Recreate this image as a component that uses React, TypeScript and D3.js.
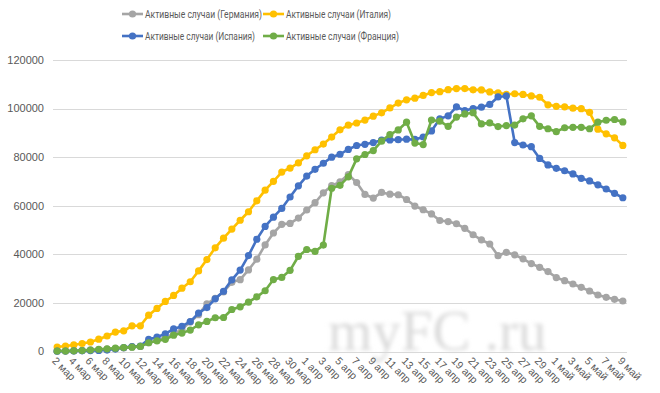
import { useEffect, useRef } from "react";
import * as d3 from "d3";

const dates = [
  "2 мар", "3 мар", "4 мар", "5 мар", "6 мар", "7 мар", "8 мар", "9 мар", "10 мар", "11 мар",
  "12 мар", "13 мар", "14 мар", "15 мар", "16 мар", "17 мар", "18 мар", "19 мар", "20 мар", "21 мар",
  "22 мар", "23 мар", "24 мар", "25 мар", "26 мар", "27 мар", "28 мар", "29 мар", "30 мар", "31 мар",
  "1 апр", "2 апр", "3 апр", "4 апр", "5 апр", "6 апр", "7 апр", "8 апр", "9 апр", "10 апр",
  "11 апр", "12 апр", "13 апр", "14 апр", "15 апр", "16 апр", "17 апр", "18 апр", "19 апр", "20 апр",
  "21 апр", "22 апр", "23 апр", "24 апр", "25 апр", "26 апр", "27 апр", "28 апр", "29 апр", "30 апр",
  "1 май", "2 май", "3 май", "4 май", "5 май", "6 май", "7 май", "8 май", "9 май",
];

const germany = [
  143, 180, 246, 466, 653, 781, 1022, 1156, 1437, 1880,
  2050, 3622, 4530, 5738, 7188, 9166, 12194, 15163, 19601, 21896,
  24513, 28480, 29586, 33570, 37998, 43871, 48781, 52351, 52740, 54933,
  58252, 61247, 65309, 68248, 69839, 72864, 69566, 64647, 63167, 65491,
  64772, 64532, 62578, 59865, 58349, 56646, 53931, 53483, 52598, 50703,
  48058, 45969, 44254, 39439, 40836, 39794, 38132, 36198, 34672, 32886,
  30441, 29155, 27790, 26420, 24900, 23260, 22300, 21490, 20790,
];

const italy = [
  1835, 2263, 2706, 3296, 3916, 5061, 6387, 7985, 8514, 10590,
  10590, 14955, 17750, 20603, 23073, 26062, 28710, 33190, 37860, 42681,
  46638, 50418, 54030, 57521, 62013, 66414, 70065, 73880, 75528, 77635,
  80572, 83049, 85388, 88274, 91246, 93187, 94067, 95262, 96877, 98273,
  100269, 102253, 103616, 104291, 105418, 106607, 106962, 107771, 108257, 108237,
  107709, 107699, 106848, 106527, 105847, 106103, 105813, 105205, 104657, 101551,
  100943, 100704, 100179, 99980, 98467, 91528, 89624, 87961, 84842,
];

const spain = [
  120, 165, 220, 260, 370, 430, 590, 1000, 1620, 2000,
  2260, 5000, 5900, 7300, 9300, 10400, 12300, 15800, 18100, 21700,
  24800, 29500, 33500, 39500, 46200, 51500, 55300, 58900, 63600, 68200,
  72200, 75000, 77500, 80000, 81200, 83200, 84800, 85300, 86000, 87000,
  87100, 87200, 87400, 87300, 88300, 90800, 95800, 97000, 100700, 99200,
  100000, 100600, 101700, 104800, 105200, 86000, 85000, 84300, 79500, 76800,
  75400, 74400, 73100, 71300, 70200, 68600, 66900, 65100, 63300,
];

const france = [
  180, 200, 270, 400, 590, 920, 1100, 1380, 1600, 1800,
  2100, 3600, 4400, 5000, 6700, 7600, 8800, 11000, 12400, 13900,
  14000, 17300, 18400, 20300, 22500, 25000, 29600, 30500, 33400, 39200,
  42000, 41200, 43800, 67200, 68400, 71900, 79300, 81100, 82700, 86600,
  89300, 91200, 94400, 85800, 85200, 95300, 94800, 92700, 96500, 97800,
  98300, 93700, 94100, 92600, 93000, 93200, 95800, 97000, 92700, 91700,
  90500, 92100, 92300, 92300, 91700, 94400, 95200, 95500, 94500,
];

const yTicks = [0, 20000, 40000, 60000, 80000, 100000, 120000];

const series = [
  { name: "Активные случаи (Германия)", values: germany, color: "#A5A5A5", tw: 117 },
  { name: "Активные случаи (Италия)", values: italy, color: "#FFC000", tw: 105 },
  { name: "Активные случаи (Испания)", values: spain, color: "#4472C4", tw: 110 },
  { name: "Активные случаи (Франция)", values: france, color: "#70AD47", tw: 113 },
];

const W = 660;
const H = 393;
const FONT = "Roboto, 'Liberation Sans', Arial, sans-serif";

const App = () => {
  const svgRef = useRef<SVGSVGElement | null>(null);

  useEffect(() => {
    const svg = d3.select(svgRef.current);
    svg.selectAll("*").remove();

    const x = d3.scaleBand<string>().domain(dates).range([53, 627]);
    const y = d3.scaleLinear().domain([0, 120000]).range([351.5, 60]);
    const cx = (i: number) => (x(dates[i]) as number) + x.bandwidth() / 2;

    svg.append("rect").attr("width", W).attr("height", H).attr("fill", "#fff");

    // watermark
    const defs = svg.append("defs");
    defs
      .append("filter")
      .attr("id", "blur")
      .append("feGaussianBlur")
      .attr("stdDeviation", 2);
    svg
      .append("text")
      .attr("x", 328)
      .attr("y", 350)
      .attr("font-family", "'Liberation Serif', 'DejaVu Serif', serif")
      .attr("font-size", 57)
      .attr("fill", "#dadada")
      .attr("filter", "url(#blur)")
      .text("myFC .ru");

    // grid
    svg
      .append("g")
      .selectAll("line")
      .data(yTicks)
      .enter()
      .append("line")
      .attr("x1", 53)
      .attr("x2", 627)
      .attr("y1", (d) => Math.round(y(d)) + 0.5)
      .attr("y2", (d) => Math.round(y(d)) + 0.5)
      .attr("stroke", "#d9d9d9")
      .attr("stroke-width", 1);

    // y labels
    svg
      .append("g")
      .selectAll("text")
      .data(yTicks)
      .enter()
      .append("text")
      .attr("x", 44)
      .attr("y", (d) => y(d))
      .attr("dy", "0.35em")
      .attr("text-anchor", "end")
      .attr("font-family", "'Liberation Sans', Arial, sans-serif")
      .attr("font-size", 11)
      .attr("fill", "#595959")
      .text((d) => String(d));

    // x labels
    svg
      .append("g")
      .selectAll("text")
      .data(dates.filter((_, i) => i % 2 === 0))
      .enter()
      .append("text")
      .attr("transform", (d) => `translate(${(x(d) as number) + x.bandwidth() / 2 - 3},${359}) rotate(45)`)
      .attr("dy", "0.35em")
      .attr("font-family", "'Liberation Sans', Arial, sans-serif")
      .attr("font-size", 10.5)
      .attr("fill", "#595959")
      .text((d) => d);

    // series
    const line = d3
      .line<number>()
      .x((_, i) => cx(i))
      .y((d) => y(d));

    series.forEach((s) => {
      const g = svg.append("g");
      g.append("path")
        .attr("d", line(s.values))
        .attr("fill", "none")
        .attr("stroke", s.color)
        .attr("stroke-width", 2.6)
        .attr("stroke-linejoin", "round");
      g.selectAll("circle")
        .data(s.values)
        .enter()
        .append("circle")
        .attr("cx", (_, i) => cx(i))
        .attr("cy", (d) => y(d))
        .attr("r", 3.6)
        .attr("fill", s.color);
    });

    // legend
    const legendPos = [
      { lx: 122, ly: 14 },
      { lx: 263, ly: 14 },
      { lx: 122, ly: 36 },
      { lx: 263, ly: 36 },
    ];
    series.forEach((s, i) => {
      const p = legendPos[i];
      const g = svg.append("g").attr("transform", `translate(${p.lx},${p.ly})`);
      g.append("line")
        .attr("x1", 0)
        .attr("x2", 21)
        .attr("stroke", s.color)
        .attr("stroke-width", 2.6);
      g.append("circle").attr("cx", 10.5).attr("r", 3.6).attr("fill", s.color);
      g.append("text")
        .attr("x", 23)
        .attr("dy", "0.35em")
        .attr("font-family", FONT)
        .attr("font-size", 10.5)
        .attr("textLength", s.tw)
        .attr("lengthAdjust", "spacingAndGlyphs")
        .attr("fill", "#595959")
        .text(s.name);
    });
  }, []);

  return (
    <div style={{ position: "absolute", left: 0, top: 0 }}>
      <svg ref={svgRef} width={W} height={H} style={{ display: "block" }}></svg>
    </div>
  );
};

export default App;
